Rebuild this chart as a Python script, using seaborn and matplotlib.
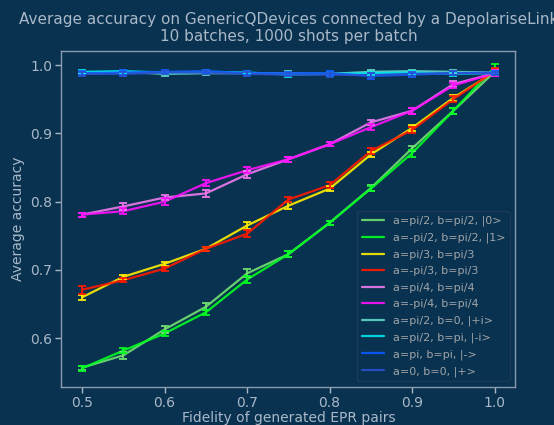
import numpy as np
import pandas as pd
import matplotlib
matplotlib.use("Agg")
import matplotlib.pyplot as plt
import seaborn as sns

fidelity = [0.5, 0.55, 0.6, 0.65, 0.7, 0.75, 0.8, 0.85, 0.9, 0.95, 1.0]

labels = [
    "a=pi/2, b=pi/2, |0>",
    "a=-pi/2, b=pi/2, |1>",
    "a=pi/3, b=pi/3",
    "a=-pi/3, b=pi/3",
    "a=pi/4, b=pi/4",
    "a=-pi/4, b=pi/4",
    "a=pi/2, b=0, |+i>",
    "a=pi/2, b=pi, |-i>",
    "a=pi, b=pi, |->",
    "a=0, b=0, |+>",
]

acc_0 = [0.557, 0.575, 0.613, 0.646, 0.695, 0.723, 0.769, 0.820, 0.878, 0.933, 0.990]
acc_1 = [0.556, 0.582, 0.607, 0.638, 0.686, 0.723, 0.769, 0.819, 0.871, 0.933, 0.997]
acc_pi3 = [0.660, 0.690, 0.709, 0.731, 0.765, 0.794, 0.819, 0.869, 0.908, 0.952, 0.990]
acc_mpi3 = [0.671, 0.685, 0.702, 0.731, 0.753, 0.803, 0.824, 0.874, 0.905, 0.950, 0.991]
acc_pi4 = [0.781, 0.793, 0.806, 0.812, 0.840, 0.862, 0.884, 0.916, 0.933, 0.972, 0.988]
acc_mpi4 = [0.781, 0.786, 0.800, 0.827, 0.846, 0.862, 0.884, 0.909, 0.933, 0.970, 0.988]
acc_pi = [0.989, 0.990, 0.987, 0.988, 0.988, 0.988, 0.987, 0.990, 0.991, 0.990, 0.989]
acc_mi = [0.990, 0.991, 0.989, 0.990, 0.989, 0.986, 0.987, 0.988, 0.989, 0.987, 0.988]
acc_minus = [0.988, 0.989, 0.990, 0.991, 0.988, 0.988, 0.988, 0.984, 0.986, 0.988, 0.989]
acc_plus = [0.987, 0.987, 0.989, 0.989, 0.987, 0.986, 0.986, 0.985, 0.987, 0.988, 0.988]

err_0 = [0.003, 0.005, 0.005, 0.005, 0.006, 0.004, 0.003, 0.004, 0.004, 0.004, 0.004]
err_1 = [0.004, 0.004, 0.004, 0.004, 0.005, 0.004, 0.003, 0.004, 0.005, 0.004, 0.005]
err_pi3 = [0.004, 0.003, 0.003, 0.003, 0.005, 0.005, 0.004, 0.004, 0.004, 0.004, 0.004]
err_mpi3 = [0.006, 0.003, 0.003, 0.003, 0.005, 0.004, 0.004, 0.004, 0.004, 0.004, 0.004]
err_pi4 = [0.003, 0.005, 0.004, 0.005, 0.005, 0.004, 0.003, 0.004, 0.004, 0.004, 0.004]
err_mpi4 = [0.003, 0.004, 0.005, 0.004, 0.004, 0.004, 0.003, 0.004, 0.004, 0.004, 0.004]
err_pi = [0.002, 0.002, 0.003, 0.003, 0.002, 0.003, 0.003, 0.002, 0.002, 0.003, 0.002]
err_mi = [0.002, 0.002, 0.002, 0.003, 0.002, 0.003, 0.003, 0.002, 0.002, 0.003, 0.002]
err_minus = [0.003, 0.003, 0.002, 0.002, 0.003, 0.002, 0.003, 0.004, 0.003, 0.003, 0.002]
err_plus = [0.003, 0.003, 0.002, 0.002, 0.003, 0.002, 0.003, 0.004, 0.003, 0.003, 0.002]

colors = ["#72e072", "#00ff22", "#ffee00", "#ff1a00", "#f07af0", "#ff10ff",
          "#5fd6c8", "#00e8f0", "#0a5cff", "#2a50d0"]

series = [acc_0, acc_1, acc_pi3, acc_mpi3, acc_pi4, acc_mpi4, acc_pi, acc_mi, acc_minus, acc_plus]
errs = [err_0, err_1, err_pi3, err_mpi3, err_pi4, err_mpi4, err_pi, err_mi, err_minus, err_plus]

rows = []
for lab, vals, ee in zip(labels, series, errs):
    for f, v, e in zip(fidelity, vals, ee):
        rows.append({"fidelity": f, "accuracy": v, "err": e, "setting": lab})
df = pd.DataFrame(rows)

bg = "#08324f"
fg = "#a9b8c8"
sns.set_theme(style="dark", rc={
    "figure.facecolor": bg, "axes.facecolor": bg, "axes.edgecolor": "#8a9bb0",
    "axes.labelcolor": fg, "xtick.color": fg, "ytick.color": fg, "text.color": fg,
    "axes.grid": False,
})
plt.rcParams["font.family"] = ["DejaVu Sans"]

fig, ax = plt.subplots(figsize=(5.54, 4.25), dpi=100)
fig.subplots_adjust(left=0.111, right=0.930, top=0.88, bottom=0.090)

palette = dict(zip(labels, colors))
sns.lineplot(data=df, x="fidelity", y="accuracy", hue="setting", hue_order=labels,
             palette=palette, ax=ax, linewidth=1.6, errorbar=None, alpha=0.9)

for lab, vals, ee in zip(labels, series, errs):
    ax.errorbar(fidelity, vals, yerr=ee, fmt="none", ecolor=palette[lab],
                elinewidth=1.4, capsize=3, capthick=1.4, alpha=0.9)

ax.set_xlim(0.475, 1.025)
ax.set_ylim(0.529, 1.0205)
ax.set_xticks([0.5, 0.6, 0.7, 0.8, 0.9, 1.0])
ax.set_yticks([0.6, 0.7, 0.8, 0.9, 1.0])
ax.tick_params(axis="both", labelsize=10, length=4, width=1, colors=fg,
               bottom=True, left=True, pad=2.5)
for s in ax.spines.values():
    s.set_color("#8a9bb0")
    s.set_linewidth(1)

ax.set_xlabel("Fidelity of generated EPR pairs", fontsize=10, color=fg, labelpad=1)
ax.set_ylabel("Average accuracy", fontsize=10, color=fg)
ax.set_title("Average accuracy on GenericQDevices connected by a DepolariseLink\n"
             "10 batches, 1000 shots per batch", fontsize=11.0, color=fg, pad=7)

leg = ax.legend(loc="lower right", fontsize=8, frameon=True, facecolor=bg,
                edgecolor="#1e3d57", framealpha=0.9, labelspacing=0.58)
for t in leg.get_texts():
    t.set_color("#a0a4a8")

fig.savefig("out.png", dpi=100, facecolor=bg)
